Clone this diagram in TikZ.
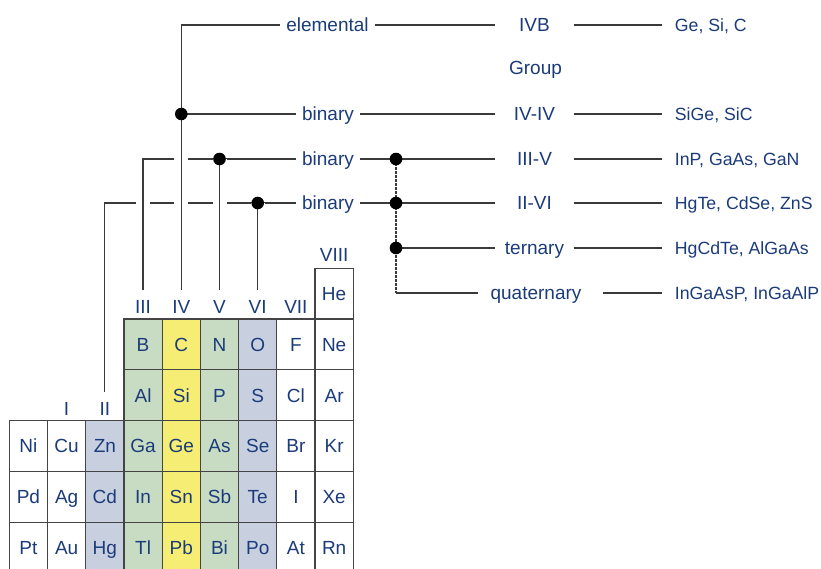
\documentclass[tikz,border=0pt]{standalone}
\usepackage{fontspec}
\setmainfont{Liberation Sans}
\definecolor{navy}{HTML}{1B3B7A}
\definecolor{gridc}{HTML}{444444}
\definecolor{wirec}{HTML}{3A3A3A}
\definecolor{cg}{HTML}{C8DCC4}
\definecolor{cy}{HTML}{F6EE74}
\definecolor{cb}{HTML}{C8D0E0}
\begin{document}
\begin{tikzpicture}[x=1pt,y=-1pt,
  lab/.style={text=navy, font=\fontsize{19}{22}\selectfont, text height=13.6pt, text depth=0pt, inner sep=6pt},
  mid/.style={lab, inner sep=0pt, minimum width=78pt},
  rtxt/.style={text=navy, font=\fontsize{17.7}{21}\selectfont, text height=12.7pt, text depth=0pt, anchor=west, inner xsep=13pt, inner ysep=3pt},
  glab/.style={lab, inner xsep=2pt, inner ysep=10pt},
  cell/.style={lab, draw=gridc, line width=1.2pt, inner sep=0pt, minimum width=38.22pt, minimum height=50.8pt},
  wire/.style={draw=wirec, line width=1.2pt},
  halo/.style={preaction={draw=white, line width=14pt}},
  dotted wire/.style={draw=wirec, line width=1.2pt, dash pattern=on 2.5pt off 1.5pt},
  jdot/.style={fill=black}
]
\useasboundingbox (0,0) rectangle (821,568);

% ---- periodic table ----
\node[cell] (He) at (334.1,293.6) {He};
\foreach \n/\c [count=\i from 4] in {B/cg,C/cy,N/cg,O/cb,F/white,Ne/white}
  \node[cell, fill=\c] (\n) at ({9.3+38.22*(\i-0.5)},344.4) {\n};
\foreach \n/\c [count=\i from 4] in {Al/cg,Si/cy,P/cg,S/cb,Cl/white,Ar/white}
  \node[cell, fill=\c] (\n) at ({9.3+38.22*(\i-0.5)},395.2) {\n};
\foreach \n/\c [count=\i] in {Ni/white,Cu/white,Zn/cb,Ga/cg,Ge/cy,As/cg,Se/cb,Br/white,Kr/white}
  \node[cell, fill=\c] (\n) at ({9.3+38.22*(\i-0.5)},446) {\n};
\foreach \n/\c [count=\i] in {Pd/white,Ag/white,Cd/cb,In/cg,Sn/cy,Sb/cg,Te/cb,I/white,Xe/white}
  \node[cell, fill=\c] (\n) at ({9.3+38.22*(\i-0.5)},496.8) {\n};
\foreach \n/\c [count=\i] in {Pt/white,Au/white,Hg/cb,Tl/cg,Pb/cy,Bi/cg,Po/cb,At/white,Rn/white}
  \node[cell, fill=\c] (\n) at ({9.3+38.22*(\i-0.5)},547.6) {\n};

% ---- group labels ----
\node[glab] (gI)    at (66.6,409)    {I};
\node[glab] (gII)   at (104.8,409)   {II};
\node[glab] (gIII)  at (143.0,306.7) {III};
\node[glab] (gIV)   at (181.3,306.7) {IV};
\node[glab] (gV)    at (219.5,306.7) {V};
\node[glab] (gVI)   at (257.7,306.7) {VI};
\node[glab] (gVII)  at (295.9,306.7) {VII};
\node[glab] (gVIII) at (334.1,255)   {VIII};

% ---- left labels ----
\node[lab] (elem) at (327.5,25)  {elemental};
\node[lab] (b1)   at (328,114) {binary};
\node[lab] (b2)   at (328,159) {binary};
\node[lab] (b3)   at (328,203) {binary};

% ---- middle labels ----
\node[mid] (m1) at (534.5,25)  {IVB};
\node[lab] (grp) at (535.5,68) {Group};
\node[mid] (m2) at (534.5,114) {IV-IV};
\node[mid] (m3) at (534.5,159) {III-V};
\node[mid] (m4) at (534.5,203) {II-VI};
\node[mid] (m5) at (534.5,248) {ternary};
\node[lab, inner sep=0pt] (q) at (536,293) {quaternary};

% ---- right texts ----
\node[rtxt] (r1) at (661.7,25)  {Ge, Si, C};
\node[rtxt] (r2) at (661.7,114) {SiGe, SiC};
\node[rtxt] (r3) at (661.7,159) {InP, GaAs, GaN};
\node[rtxt] (r4) at (661.7,203) {HgTe, CdSe, ZnS};
\node[rtxt] (r5) at (661.7,248) {HgCdTe, AlGaAs};
\node[rtxt] (r6) at (661.7,293) {InGaAsP, InGaAlP};

% ---- junction coordinates ----
\coordinate (dIV) at (gIV.north |- b1.west);
\coordinate (dV)  at (gV.north |- b2.west);
\coordinate (dVI) at (gVI.north |- b3.west);
\coordinate (dA)  at (396,159);
\coordinate (dB)  at (396,203);
\coordinate (dT)  at (396,248);
\coordinate (dQ)  at (396,293);

% ---- tree connectors (with crossing gaps) ----
\draw[wire, halo] (gII.north) |- (b3.west);
\draw[wire, halo] (gIII.north) |- (b2.west);
\draw[wire, halo] (gIV.north) |- (elem.west);
\draw[wire, halo] (dV) -- (gV.north);
\draw[wire, halo] (dVI) -- (gVI.north);
\draw[wire] (dIV) -- (b1.west);

% ---- label to group ----
\draw[wire] (elem.east) -- (m1.west);
\draw[wire] (b1.east) -- (m2.west);
\draw[wire] (b2.east) -- (m3.west);
\draw[wire] (b3.east) -- (m4.west);
\draw[wire] (dT) -- (m5.west);
\draw[dotted wire] (dA) -- (dQ);
\draw[wire] (dQ) -- ([xshift=-12pt]q.west);

% ---- group to examples ----
\draw[wire] (m1.east) -- (r1.west);
\draw[wire] (m2.east) -- (r2.west);
\draw[wire] (m3.east) -- (r3.west);
\draw[wire] (m4.east) -- (r4.west);
\draw[wire] (m5.east) -- (r5.west);
\draw[wire] ([xshift=21pt]q.east) -- (r6.west);

% ---- dots ----
\foreach \p in {dIV,dV,dVI,dA,dB,dT}
  \fill[jdot] (\p) circle[radius=6.3pt];
\end{tikzpicture}
\end{document}
